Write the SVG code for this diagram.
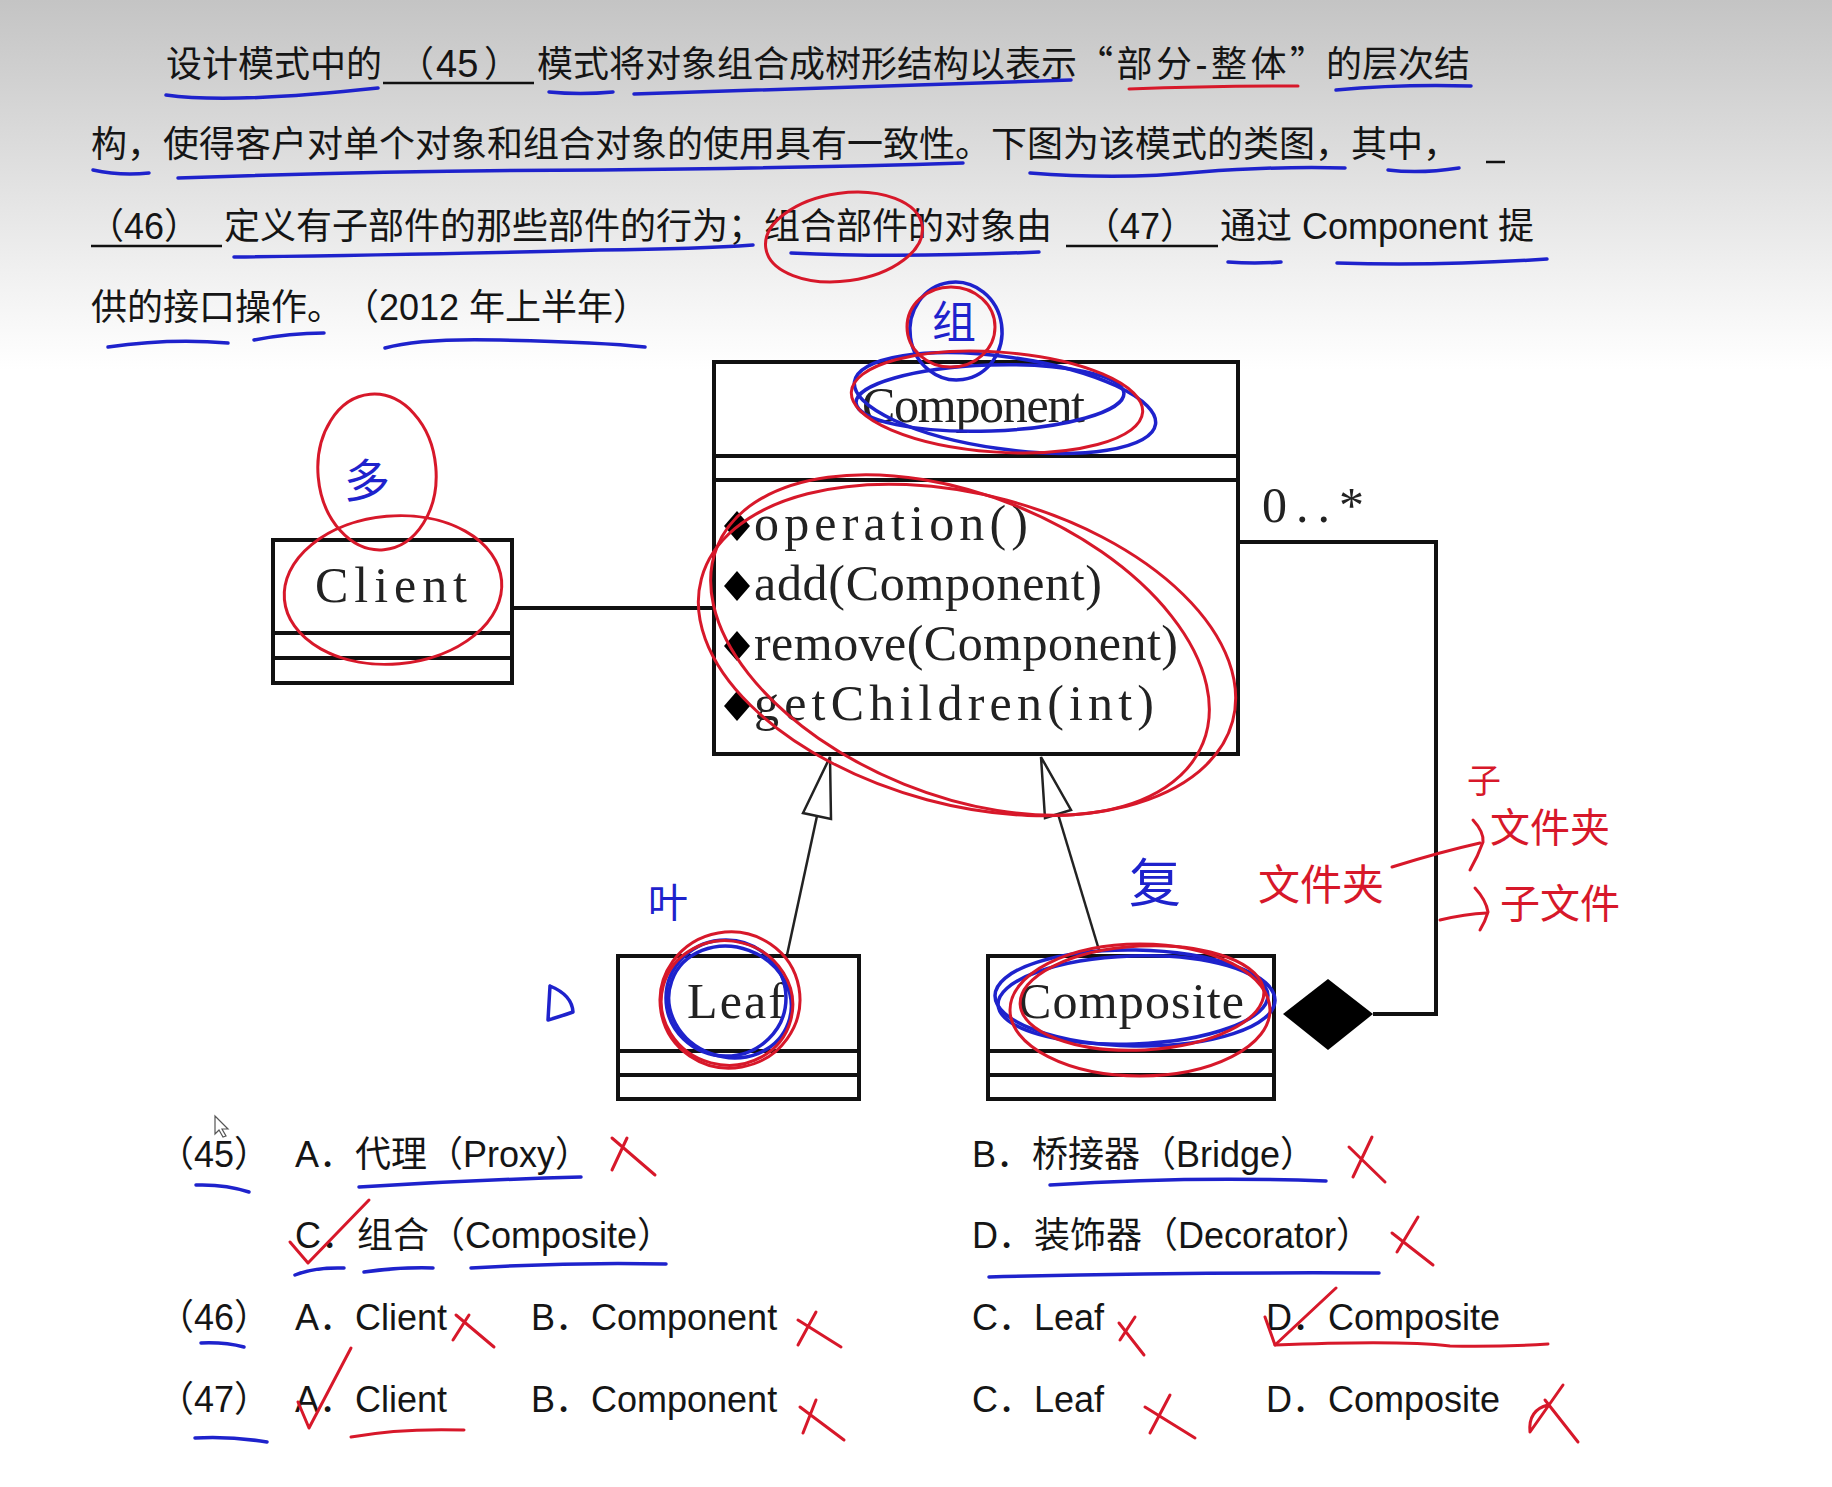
<svg xmlns="http://www.w3.org/2000/svg" width="1832" height="1487" viewBox="0 0 1832 1487">
<defs>
<linearGradient id="bg" x1="0" y1="0" x2="0" y2="370" gradientUnits="userSpaceOnUse">
<stop offset="0" stop-color="#c4c4c4"/>
<stop offset="0.4" stop-color="#dcdcdc"/>
<stop offset="0.75" stop-color="#f1f1f1"/>
<stop offset="1" stop-color="#ffffff"/>
</linearGradient>
<style>
.t{font-family:"Liberation Sans","Noto Sans CJK SC",sans-serif;font-size:36px;fill:#151515;text-spacing-trim:space-all}
.u{font-family:"Liberation Serif","DejaVu Serif",serif;font-size:50px;fill:#222}
.box{fill:#fff;stroke:#111;stroke-width:4}
.ln{stroke:#111;stroke-width:4;fill:none}
.thin{stroke:#222;stroke-width:2.5;fill:none}
.blank{stroke:#111;stroke-width:2.5}
.r{stroke:#d7182a;stroke-width:3;fill:none;stroke-linecap:round;stroke-linejoin:round}
.b{stroke:#1e22cc;stroke-width:3.5;fill:none;stroke-linecap:round;stroke-linejoin:round}
.hr{font-family:"Noto Sans CJK SC",sans-serif;fill:#d7182a;text-anchor:middle}
.hb{font-family:"Noto Sans CJK SC",sans-serif;fill:#1e22cc;text-anchor:middle}
</style>
</defs>
<rect x="0" y="0" width="1832" height="1487" fill="#fff"/>
<rect x="0" y="0" width="1832" height="370" fill="url(#bg)"/>

<g id="question">
<text class="t" x="166" y="77" textLength="216">设计模式中的</text>
<line class="blank" x1="383" y1="83" x2="534" y2="83"/>
<text class="t" x="398" y="77">（<tspan x="436" font-size="38">45</tspan><tspan x="484">）</tspan></text>
<text class="t" x="537" y="77" textLength="540">模式将对象组合成树形结构以表示</text>
<text class="t" x="1077" y="77" textLength="249"><tspan font-family="Noto Sans CJK SC">“</tspan>部分-整体<tspan font-family="Noto Sans CJK SC">”</tspan></text>
<text class="t" x="1326" y="77" textLength="144">的层次结</text>

<text class="t" x="91" y="157">构，使得客户对单个对象和组合对象的使用具有一致性。下图为该模式的类图，其中，</text>
<line class="blank" x1="1486" y1="162" x2="1505" y2="162"/>

<line class="blank" x1="91" y1="246" x2="222" y2="246"/>
<text class="t" x="88" y="239">（46）</text>
<text class="t" x="224" y="239">定义有子部件的那些部件的行为；组合部件的对象由</text>
<line class="blank" x1="1066" y1="246" x2="1218" y2="246"/>
<text class="t" x="1084" y="239">（47）</text>
<text class="t" x="1220" y="239">通过 Component 提</text>

<text class="t" x="91" y="320">供的接口操作。（2012 年上半年）</text>
</g>

<g id="connectors">
<line class="ln" x1="512" y1="608" x2="714" y2="608"/>
<line class="thin" x1="787" y1="955" x2="817" y2="816"/>
<polygon points="830,757 803,813 831,819" fill="#fff" stroke="#222" stroke-width="2.5"/>
<line class="thin" x1="1099" y1="950" x2="1058" y2="814"/>
<polygon points="1041,757 1045,818 1071,810" fill="#fff" stroke="#222" stroke-width="2.5"/>
<path class="ln" d="M1238,542 H1436 V1014 H1373"/>
<polygon points="1283,1014 1328,979 1373,1014 1328,1050" fill="#000"/>
<text class="u" x="1262" y="522" textLength="102" lengthAdjust="spacing">0..*</text>
</g>

<g id="node-component">
<rect class="box" x="714" y="362" width="524" height="392"/>
<line class="ln" x1="714" y1="456" x2="1238" y2="456"/>
<line class="ln" x1="714" y1="480" x2="1238" y2="480"/>
<text class="u" x="862" y="422" textLength="223" lengthAdjust="spacing">Component</text>
<polygon points="724,526 737,511 750,526 737,541" fill="#000"/>
<polygon points="724,586 737,571 750,586 737,601" fill="#000"/>
<polygon points="724,646 737,631 750,646 737,661" fill="#000"/>
<polygon points="724,706 737,691 750,706 737,721" fill="#000"/>
<text class="u" x="754" y="540" textLength="274" lengthAdjust="spacing">operation()</text>
<text class="u" x="754" y="600" textLength="348" lengthAdjust="spacing">add(Component)</text>
<text class="u" x="754" y="660" textLength="424" lengthAdjust="spacing">remove(Component)</text>
<text class="u" x="754" y="720" textLength="400" lengthAdjust="spacing">getChildren(int)</text>
</g>

<g id="node-client">
<rect class="box" x="273" y="540" width="239" height="143"/>
<line class="ln" x1="273" y1="633" x2="512" y2="633"/>
<line class="ln" x1="273" y1="658" x2="512" y2="658"/>
<text class="u" x="315" y="602" textLength="152" lengthAdjust="spacing">Client</text>
</g>

<g id="node-leaf">
<rect class="box" x="618" y="956" width="241" height="143"/>
<line class="ln" x1="618" y1="1051" x2="859" y2="1051"/>
<line class="ln" x1="618" y1="1075" x2="859" y2="1075"/>
<text class="u" x="687" y="1018" textLength="98" lengthAdjust="spacing">Leaf</text>
</g>

<g id="node-composite">
<rect class="box" x="988" y="956" width="286" height="143"/>
<line class="ln" x1="988" y1="1051" x2="1274" y2="1051"/>
<line class="ln" x1="988" y1="1075" x2="1274" y2="1075"/>
<text class="u" x="1018" y="1018" textLength="226" lengthAdjust="spacing">Composite</text>
</g>

<g id="options">
<text class="t" x="158" y="1167">（45）</text>
<text class="t" x="295" y="1167">A．代理（Proxy）</text>
<text class="t" x="972" y="1167">B．桥接器（Bridge）</text>
<text class="t" x="295" y="1248">C．组合（Composite）</text>
<text class="t" x="972" y="1248">D．装饰器（Decorator）</text>
<text class="t" x="158" y="1330">（46）</text>
<text class="t" x="295" y="1330">A．Client</text>
<text class="t" x="531" y="1330">B．Component</text>
<text class="t" x="972" y="1330">C．Leaf</text>
<text class="t" x="1266" y="1330">D．Composite</text>
<text class="t" x="158" y="1412">（47）</text>
<text class="t" x="295" y="1412">A．Client</text>
<text class="t" x="531" y="1412">B．Component</text>
<text class="t" x="972" y="1412">C．Leaf</text>
<text class="t" x="1266" y="1412">D．Composite</text>
<path d="M215,1116 L215,1134 L219,1130 L223,1137 L226,1136 L222,1129 L228,1129 Z" fill="#fff" stroke="#555" stroke-width="1.2"/>
</g>

<g id="annotations-blue">
<path class="b" d="M166,95 Q230,104 378,88"/>
<path class="b" d="M549,92 Q580,95 613,92"/>
<path class="b" d="M634,94 Q850,88 1071,80"/>
<path class="b" d="M1336,90 Q1400,84 1471,86"/>
<path class="b" d="M93,170 Q120,176 149,173"/>
<path class="b" d="M178,178 Q400,170 600,170 Q800,168 963,163"/>
<path class="b" d="M1030,173 Q1120,180 1200,172 Q1280,166 1345,168"/>
<path class="b" d="M1388,170 Q1420,174 1459,168"/>
<path class="b" d="M234,257 Q400,255 600,250 Q700,249 753,245"/>
<path class="b" d="M791,253 Q900,258 1039,252"/>
<path class="b" d="M1228,262 Q1255,264 1281,262"/>
<path class="b" d="M1337,263 Q1440,266 1547,259"/>
<path class="b" d="M108,347 Q170,338 228,343"/>
<path class="b" d="M254,340 Q290,333 324,333"/>
<path class="b" d="M385,348 Q420,338 500,340 Q600,342 645,347"/>
<ellipse class="b" cx="956" cy="331" rx="46" ry="49" transform="rotate(-8 956 331)"/>
<ellipse class="b" cx="990" cy="398" rx="134" ry="33" transform="rotate(-2 990 398)"/>
<ellipse class="b" cx="1005" cy="403" rx="152" ry="46" transform="rotate(8 1005 403)"/>
<ellipse class="b" cx="726" cy="998" rx="60" ry="58"/>
<ellipse class="b" cx="730" cy="1002" rx="62" ry="55" transform="rotate(20 730 1002)"/>
<ellipse class="b" cx="1135" cy="998" rx="140" ry="48" transform="rotate(1 1135 998)"/>
<ellipse class="b" cx="1133" cy="1000" rx="135" ry="44" transform="rotate(-2 1133 1000)"/>
<path class="b" d="M550,986 L548,1020 Q562,1016 573,1012 Q572,995 550,986"/>
<path class="b" d="M196,1185 Q225,1184 249,1192"/>
<path class="b" d="M359,1187 Q470,1180 581,1177"/>
<path class="b" d="M1050,1185 Q1190,1176 1326,1181"/>
<path class="b" d="M295,1275 Q315,1267 344,1268"/>
<path class="b" d="M364,1272 Q400,1267 433,1268"/>
<path class="b" d="M471,1268 Q570,1262 666,1264"/>
<path class="b" d="M989,1277 Q1180,1272 1379,1273"/>
<path class="b" d="M201,1343 Q225,1342 244,1347"/>
<path class="b" d="M195,1438 Q230,1436 267,1442"/>
<text class="hb" x="954" y="338" font-size="44">组</text>
<text class="hb" x="367" y="497" font-size="46">多</text>
<text class="hb" x="668" y="917" font-size="40">叶</text>
<text class="hb" x="1155" y="902" font-size="52">复</text>
</g>

<g id="annotations-red">
<path class="r" d="M1129,89 Q1210,86 1298,86"/>
<ellipse class="r" cx="844" cy="237" rx="79" ry="44" transform="rotate(-8 844 237)"/>
<ellipse class="r" cx="951" cy="327" rx="44" ry="40"/>
<ellipse class="r" cx="997" cy="402" rx="146" ry="50" transform="rotate(4 997 402)"/>
<ellipse class="r" cx="967" cy="650" rx="275" ry="155" transform="rotate(15 967 650)"/>
<ellipse class="r" cx="960" cy="645" rx="262" ry="150" transform="rotate(22 960 645)"/>
<ellipse class="r" cx="377" cy="472" rx="59" ry="78" transform="rotate(-5 377 472)"/>
<ellipse class="r" cx="393" cy="590" rx="109" ry="74" transform="rotate(-5 393 590)"/>
<ellipse class="r" cx="730" cy="1000" rx="70" ry="68" transform="rotate(-10 730 1000)"/>
<ellipse class="r" cx="727" cy="1003" rx="66" ry="62" transform="rotate(15 727 1003)"/>
<ellipse class="r" cx="1140" cy="1010" rx="130" ry="66"/>
<ellipse class="r" cx="1142" cy="998" rx="122" ry="52" transform="rotate(-3 1142 998)"/>
<path class="r" d="M1392,867 Q1440,852 1480,843"/>
<path class="r" d="M1473,820 Q1484,832 1483,842 Q1478,856 1470,870"/>
<path class="r" d="M1440,920 Q1465,914 1487,913"/>
<path class="r" d="M1475,888 Q1486,900 1488,912 Q1485,922 1480,930"/>
<text class="hr" x="1321" y="900" font-size="42">文件夹</text>
<text class="hr" x="1484" y="793" font-size="34">子</text>
<text class="hr" x="1550" y="842" font-size="40">文件夹</text>
<text class="hr" x="1560" y="918" font-size="40">子文件</text>
<path class="r" d="M612,1138 L655,1175 M627,1138 L612,1170"/>
<path class="r" d="M1349,1147 L1385,1182 M1372,1137 L1353,1177"/>
<path class="r" d="M1392,1233 L1433,1265 M1418,1217 L1397,1252"/>
<path class="r" d="M290,1242 L308,1263 L369,1200"/>
<path class="r" d="M456,1315 L494,1347 M469,1315 L453,1340"/>
<path class="r" d="M798,1320 L841,1347 M816,1312 L798,1345"/>
<path class="r" d="M1119,1323 L1144,1355 M1135,1317 L1120,1340"/>
<path class="r" d="M1265,1317 L1275,1345 L1336,1288"/>
<path class="r" d="M1275,1345 Q1400,1340 1450,1346 Q1500,1347 1548,1344"/>
<path class="r" d="M298,1402 L309,1428 L351,1348"/>
<path class="r" d="M351,1437 Q400,1428 464,1430"/>
<path class="r" d="M800,1407 L844,1440 M816,1400 L803,1433"/>
<path class="r" d="M1145,1407 L1195,1438 M1170,1395 L1150,1433"/>
<path class="r" d="M1545,1400 L1578,1442 M1563,1385 L1530,1432 Q1528,1410 1548,1405"/>
</g>
</svg>
